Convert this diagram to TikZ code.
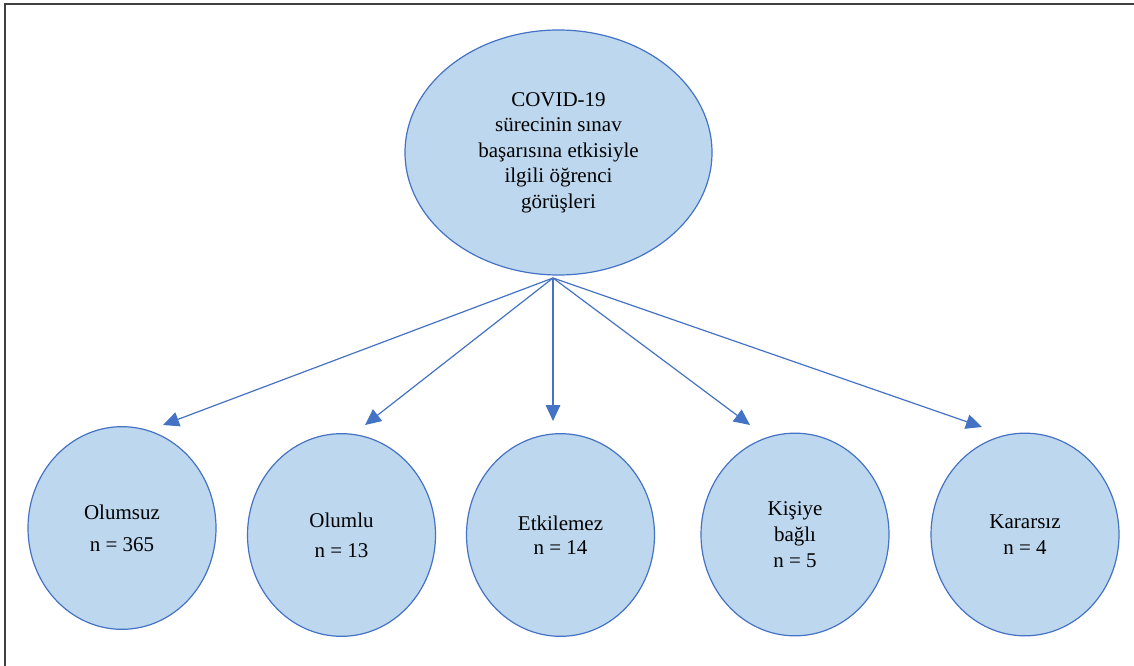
\documentclass[tikz,border=0pt]{standalone}
\usepackage{fontspec}
\setmainfont{Liberation Serif}
\usetikzlibrary{shapes.geometric,arrows.meta}
\definecolor{fillblue}{HTML}{BDD7EE}
\definecolor{edgeblue}{HTML}{4472C4}
\begin{document}
\begin{tikzpicture}[x=0.75pt,y=-0.75pt,
  bubble/.style={ellipse, draw=edgeblue, fill=fillblue, line width=0.9pt, inner sep=0pt, align=center, font=\fontsize{15.75}{19.1}\selectfont},
  small/.style={bubble, minimum width=141pt, minimum height=152pt},
  conn/.style={draw=edgeblue, line width=0.9pt, -{Triangle[length=12pt,width=11pt]}}]
\useasboundingbox (0,0) rectangle (1134,666);
\draw[line width=1.2pt, black!75] (5,666) -- (5,4) -- (1134,4);

\node[bubble, minimum width=230.25pt, minimum height=183.75pt] (root) at (558.5,152.5)
  {COVID-19\\sürecinin sınav\\başarısına etkisiyle\\ilgili öğrenci\\görüşleri};

\node[small] (n1) at (122,528) {Olumsuz\\[5pt]n = 365};
\node[small] (n2) at (341.5,535) {Olumlu\\[3.5pt]n = 13};
\node[small] (n3) at (560.5,535) {Etkilemez\\[-1pt]n = 14};
\node[small] (n4) at (795,534.5) {Kişiye\\[0.5pt]bağlı\\[0.5pt]n = 5};
\node[small] (n5) at (1025,534.5) {Kararsız\\n = 4};

\coordinate (src) at (553,278);
\coordinate (e1) at (163,425);
\coordinate (e2) at (365,425);
\coordinate (e3) at (553,421);
\coordinate (e4) at (750,425);
\coordinate (e5) at (982,427);
\foreach \e in {e1,e2,e3,e4,e5} \draw[conn] (src) -- (\e);
\end{tikzpicture}
\end{document}
